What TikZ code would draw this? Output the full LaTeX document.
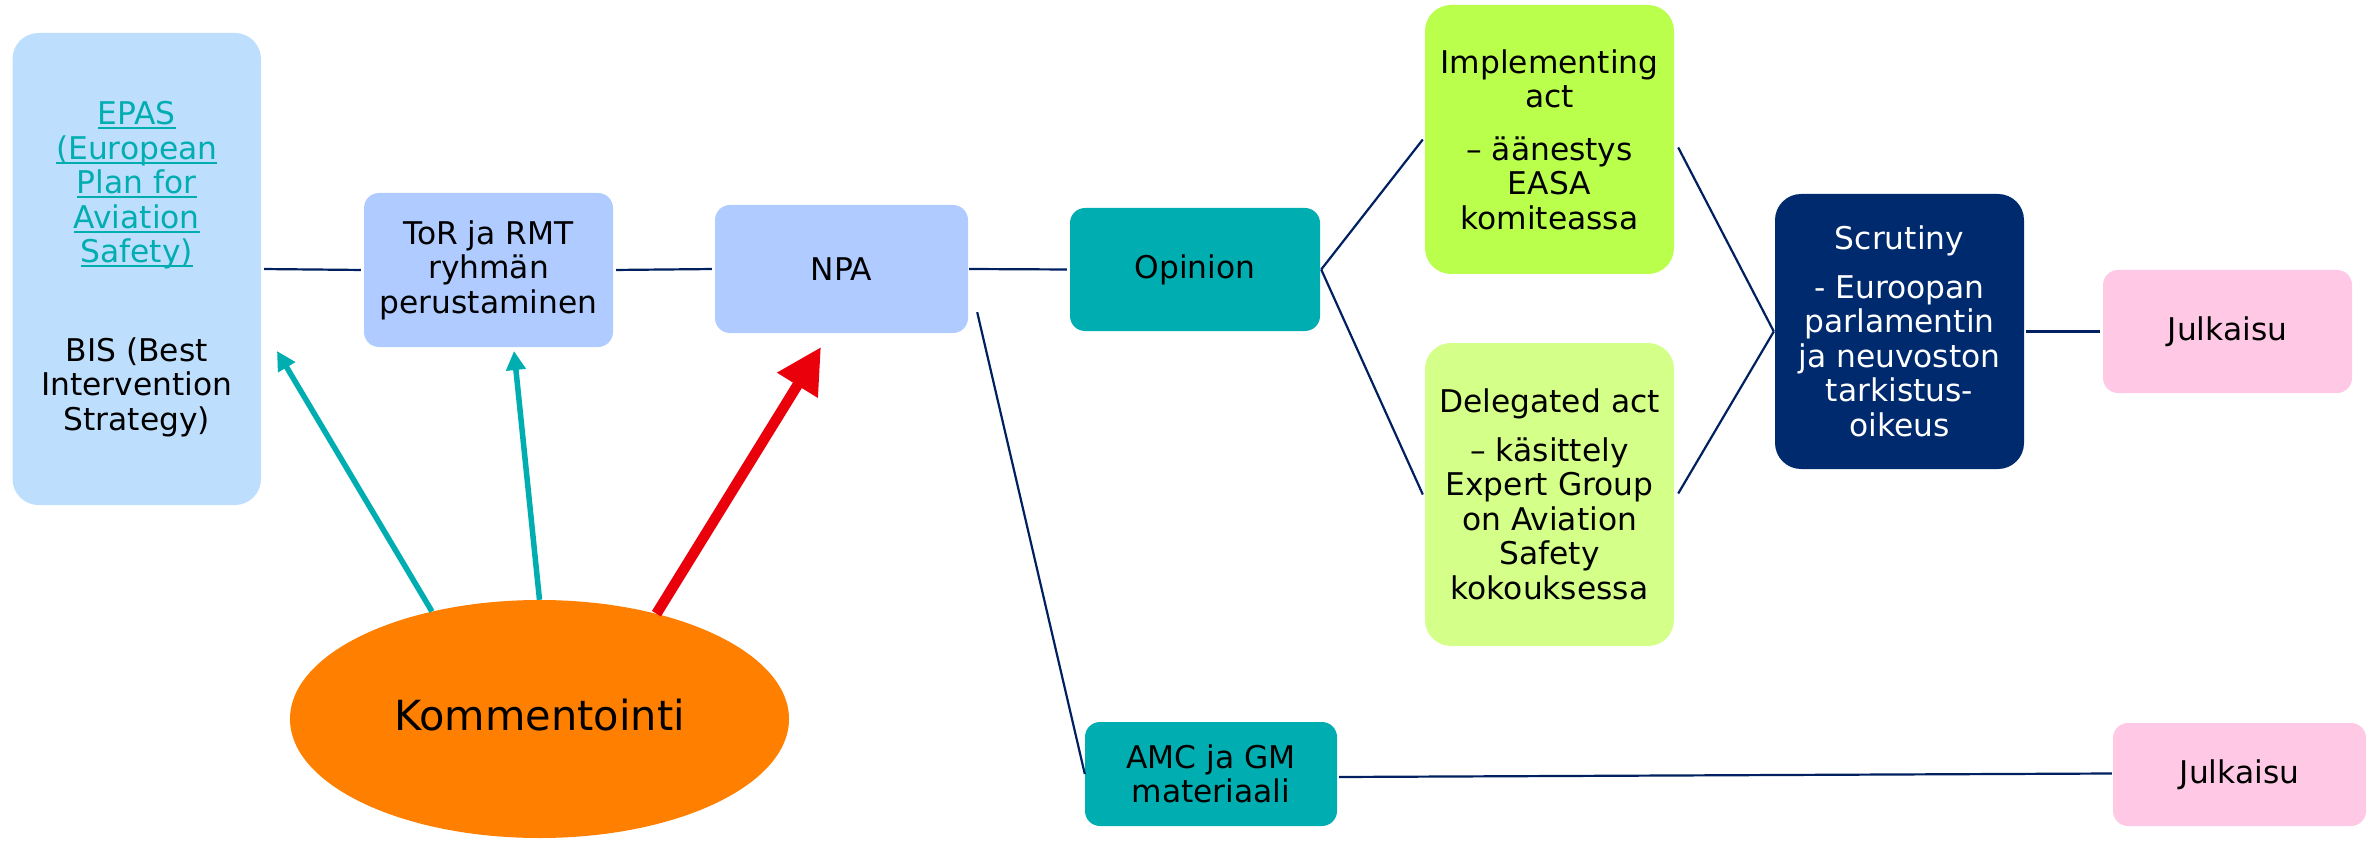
\documentclass[tikz,border=0pt]{standalone}
\usepackage{fontspec}
\setmainfont{DejaVu Sans}
\usetikzlibrary{arrows.meta,shapes.geometric}
\definecolor{epasblue}{RGB}{190,222,254}
\definecolor{torblue}{RGB}{175,203,255}
\definecolor{tealbox}{RGB}{0,174,177}
\definecolor{implgreen}{RGB}{187,255,77}
\definecolor{delgreen}{RGB}{212,255,136}
\definecolor{scrnavy}{RGB}{0,42,110}
\definecolor{julkpink}{RGB}{255,200,228}
\definecolor{kommorange}{RGB}{255,127,0}
\definecolor{arrowred}{RGB}{233,0,11}
\definecolor{linenavy}{RGB}{0,32,96}
\newcommand\epasul[1]{\setbox0=\hbox{#1}\rlap{\rule[-4.5pt]{\wd0}{2pt}}\box0}
\begin{document}
\begin{tikzpicture}[x=1pt,y=-1pt,
  box/.style={inner sep=0pt, align=center, text=black,
    font=\fontsize{31.3}{34.5}\selectfont},
  conn/.style={draw=linenavy, line width=2.2pt},
  teal arrow/.style={draw=tealbox, line width=5.5pt, -{Triangle[length=19pt,width=19pt]}},
  red arrow/.style={draw=arrowred, line width=10.5pt, -{Triangle[length=45pt,width=45pt]}}]
\useasboundingbox (0,0) rectangle (2377,842);

\node[box, fill=epasblue, rounded corners=26pt, minimum width=248.5pt, minimum height=472pt] (epas) at (136.75,269)
  {\textcolor{tealbox}{\epasul{EPAS}}\\\textcolor{tealbox}{\epasul{(European}}\\\textcolor{tealbox}{\epasul{Plan for}}\\\textcolor{tealbox}{\epasul{Aviation}}\\\textcolor{tealbox}{\epasul{Safety)}}\\[64pt]BIS (Best\\Intervention\\Strategy)};
\node[box, fill=torblue, rounded corners=15pt, minimum width=249pt, minimum height=154pt] (tor) at (488.5,270)
  {ToR ja RMT\\ryhmän\\perustaminen};
\node[box, fill=torblue, rounded corners=15pt, minimum width=253pt, minimum height=128pt] (npa) at (841.5,269) {NPA};
\node[box, fill=tealbox, rounded corners=15pt, minimum width=250pt, minimum height=123pt] (opin) at (1195,269.5) {Opinion};
\node[box, fill=implgreen, rounded corners=26pt, minimum width=249pt, minimum height=269pt] (impl) at (1549.5,139.5)
  {Implementing\\act\\[18pt]– äänestys\\EASA\\komiteassa};
\node[box, fill=delgreen, rounded corners=26pt, minimum width=249pt, minimum height=303pt] (deleg) at (1549.5,494.5)
  {Delegated act\\[14pt]– käsittely\\Expert Group\\on Aviation\\Safety\\kokouksessa};
\node[box, fill=scrnavy, text=white, rounded corners=26pt, minimum width=249pt, minimum height=275pt] (scr) at (1899.5,331.5)
  {Scrutiny\\[14pt]- Euroopan\\parlamentin\\ja neuvoston\\tarkistus-\\oikeus};
\node[box, fill=julkpink, rounded corners=15pt, minimum width=249pt, minimum height=123pt] (julk1) at (2227.5,331.5) {Julkaisu};
\node[box, fill=tealbox, rounded corners=15pt, minimum width=252pt, minimum height=104pt] (amc) at (1211,774)
  {AMC ja GM\\materiaali};
\node[box, fill=julkpink, rounded corners=15pt, minimum width=253pt, minimum height=103pt] (julk2) at (2239.5,774.5) {Julkaisu};
\node[ellipse, fill=kommorange, inner sep=0pt, minimum width=499pt, minimum height=238pt,
  font=\fontsize{41.5}{46}\selectfont] (komm) at (539.5,719) {\raisebox{8pt}{Kommentointi}};

% connectors
\draw[conn, shorten <=3pt, shorten >=3pt] (epas.east) -- (tor.west);
\draw[conn, shorten <=3pt, shorten >=3pt] (tor.east) -- (npa.west);
\draw[conn, shorten <=1pt, shorten >=3pt] (npa.east) -- (opin.west);
\draw[conn] ([xshift=1pt]opin.east) -- ([xshift=-2pt]impl.west);
\draw[conn] ([xshift=1pt]opin.east) -- ([xshift=-2pt]deleg.west);
\draw[conn] ([shift={(4,8)}]impl.east) -- ([xshift=-1pt]scr.west);
\draw[conn] ([shift={(4,-1)}]deleg.east) -- ([xshift=-1pt]scr.west);
\draw[conn, shorten <=2pt, shorten >=3pt] (scr.east) -- (julk1.west);
\coordinate (npaout) at ([shift={(9,-21)}]npa.south east);
\draw[conn] (npaout) -- (amc.west);
\draw[conn] ([shift={(2,3)}]amc.east) -- ([shift={(-1,-1)}]julk2.west);

% arrows from Kommentointi
\coordinate (tipepas) at (277,351);
\coordinate (tiptor) at (514,351);
\coordinate (tipnpa) at (821,347);
\draw[teal arrow] (komm.135) -- (tipepas);
\draw[teal arrow] (komm.north) -- (tiptor);
\draw[red arrow] (komm.42) -- (tipnpa);
\end{tikzpicture}
\end{document}
